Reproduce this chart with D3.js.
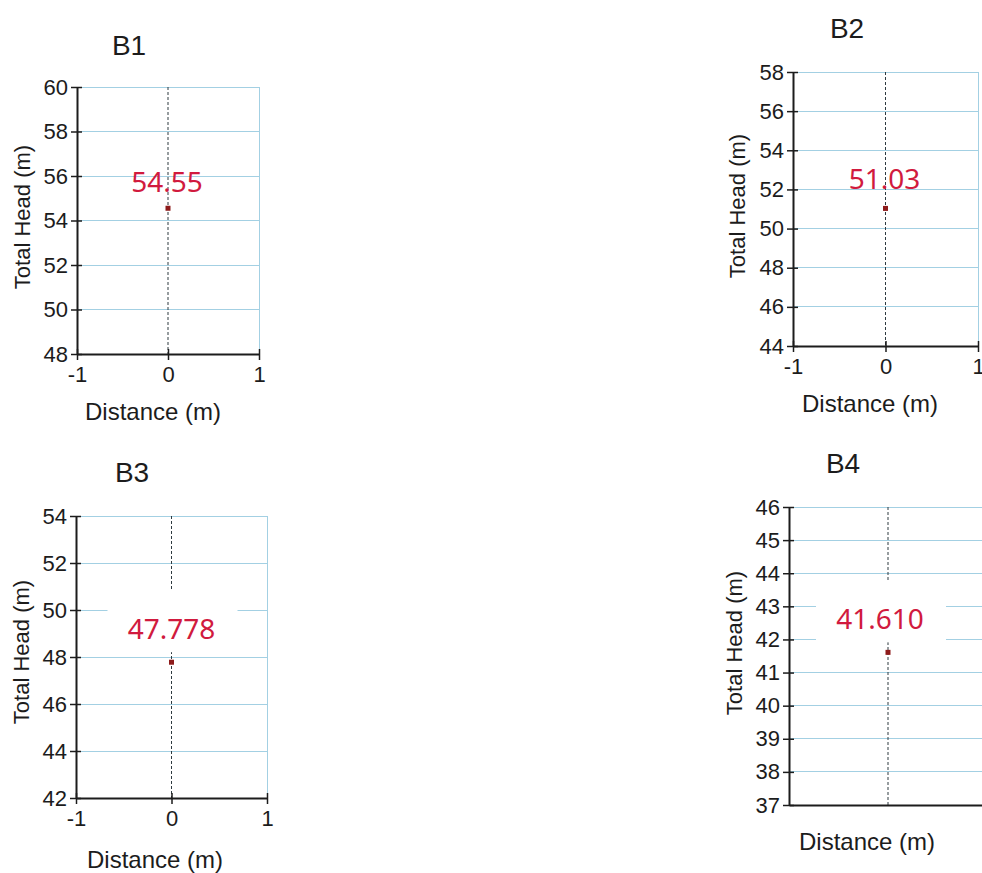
<!DOCTYPE html>
<html>
<head>
<meta charset="utf-8">
<script src="https://cdn.jsdelivr.net/npm/d3@7"></script>
<style>
  body { margin: 0; background: #fff; }
  svg { display: block; }
  text { font-family: "Liberation Sans", Arial, sans-serif; fill: #1c1c1c; }
  .axis path, .axis line { stroke: #1c1c1c; }
  .axis text { font-size: 22px; fill: #1c1c1c; }
  .grid { stroke: #a3d0e3; stroke-width: 1; shape-rendering: crispEdges; }
  .zero { stroke: #2e3a40; stroke-width: 1; stroke-dasharray: 3,2; }
  .head-label { font-family: "Noto Sans", "Open Sans", sans-serif; font-size: 28px; fill: #d11a3e; }
</style>
</head>
<body>
<script>
// borehole panels
var panels = ["B1", "B2", "B3", "B4"];
var heads = [54.55, 51.03, 47.778, 41.610];
var headLabels = ["54.55", "51.03", "47.778", "41.610"];
var yDomains = [[48, 60], [44, 58], [42, 54], [37, 46]];
var yTickValues = [
  [48, 50, 52, 54, 56, 58, 60],
  [44, 46, 48, 50, 52, 54, 56, 58],
  [42, 44, 46, 48, 50, 52, 54],
  [37, 38, 39, 40, 41, 42, 43, 44, 45, 46]
];
var xDomain = [-1, 1];
var xTickValues = [-1, 0, 1];
var showXTicks = [true, true, true, false];
var boxedLabel = [false, false, true, true];

// where each panel sits on the page
var frames = [
  {l: 77, r: 259, t: 87, b: 354, title: [129, 55], ylab: [30, 217], xlab: [153, 420], dx: -1, dy: -16},
  {l: 793, r: 978, t: 72, b: 346, title: [847, 38], ylab: [745, 206], xlab: [870, 412], dx: -1, dy: -19},
  {l: 76, r: 267, t: 516, b: 798, title: [132, 482], ylab: [29, 652], xlab: [155, 868], dx: 0, dy: -23},
  {l: 789, r: 987, t: 507, b: 805, title: [843, 473], ylab: [742, 643], xlab: [867, 850], dx: -8, dy: -23}
];

// plain hyphen, no decimals
function fmt(d) { return String(d); }

var svg = d3.select("body").append("svg")
  .attr("width", 982)
  .attr("height", 873);

panels.forEach(function(name, i) {
  var f = frames[i];
  var x = d3.scaleLinear().domain(xDomain).range([f.l, f.r]);
  var y = d3.scaleLinear().domain(yDomains[i]).range([f.b, f.t]);
  var g = svg.append("g").attr("class", "panel");

  // grid
  g.selectAll(".hgrid")
    .data(yTickValues[i].slice(1))
    .enter().append("line")
    .attr("class", "grid")
    .attr("x1", f.l).attr("x2", f.r)
    .attr("y1", function(d) { return y(d); })
    .attr("y2", function(d) { return y(d); });
  g.append("line")
    .attr("class", "grid")
    .attr("x1", x(xDomain[1])).attr("x2", x(xDomain[1]))
    .attr("y1", f.t).attr("y2", f.b);

  // dashed line at x = 0
  g.append("line")
    .attr("class", "zero")
    .attr("x1", x(0)).attr("x2", x(0))
    .attr("y1", f.t).attr("y2", f.b);

  var px = x(0), py = y(heads[i]);
  var lx = px + f.dx, ly = py + f.dy;

  if (boxedLabel[i]) {
    g.append("rect")
      .attr("x", lx - 64).attr("y", ly - 49)
      .attr("width", 130).attr("height", 62)
      .attr("fill", "#fff");
  }

  // axes
  var ya = g.append("g")
    .attr("class", "axis")
    .attr("transform", "translate(" + f.l + ",0)")
    .call(d3.axisLeft(y).tickValues(yTickValues[i]).tickFormat(fmt)
      .tickSize(6).tickSizeOuter(0).tickPadding(3));
  ya.selectAll(".tick line").attr("x1", 5).attr("stroke-width", 1.5);
  ya.select(".domain").attr("stroke-width", 2);

  var xa = g.append("g")
    .attr("class", "axis")
    .attr("transform", "translate(0," + f.b + ")")
    .call(d3.axisBottom(x)
      .tickValues(showXTicks[i] ? xTickValues : [])
      .tickFormat(fmt)
      .tickSize(6).tickSizeOuter(0).tickPadding(6));
  xa.selectAll(".tick line").attr("y1", -5).attr("stroke-width", 1.5);
  xa.select(".domain").attr("stroke-width", 2);

  // point and its value
  g.append("rect")
    .attr("x", px - 2.5).attr("y", py - 2.5)
    .attr("width", 5).attr("height", 5)
    .attr("fill", "#8e1b1b");
  g.append("text")
    .attr("class", "head-label")
    .attr("x", lx).attr("y", ly)
    .attr("text-anchor", "middle")
    .text(headLabels[i]);

  // titles
  g.append("text")
    .attr("x", f.title[0]).attr("y", f.title[1])
    .attr("text-anchor", "middle")
    .style("font-size", "28px")
    .text(name);
  g.append("text")
    .attr("transform", "translate(" + f.ylab[0] + "," + f.ylab[1] + ") rotate(-90)")
    .attr("text-anchor", "middle")
    .style("font-size", "22px")
    .text("Total Head (m)");
  g.append("text")
    .attr("x", f.xlab[0]).attr("y", f.xlab[1])
    .attr("text-anchor", "middle")
    .style("font-size", "24px")
    .text("Distance (m)");
});
</script>
</body>
</html>
